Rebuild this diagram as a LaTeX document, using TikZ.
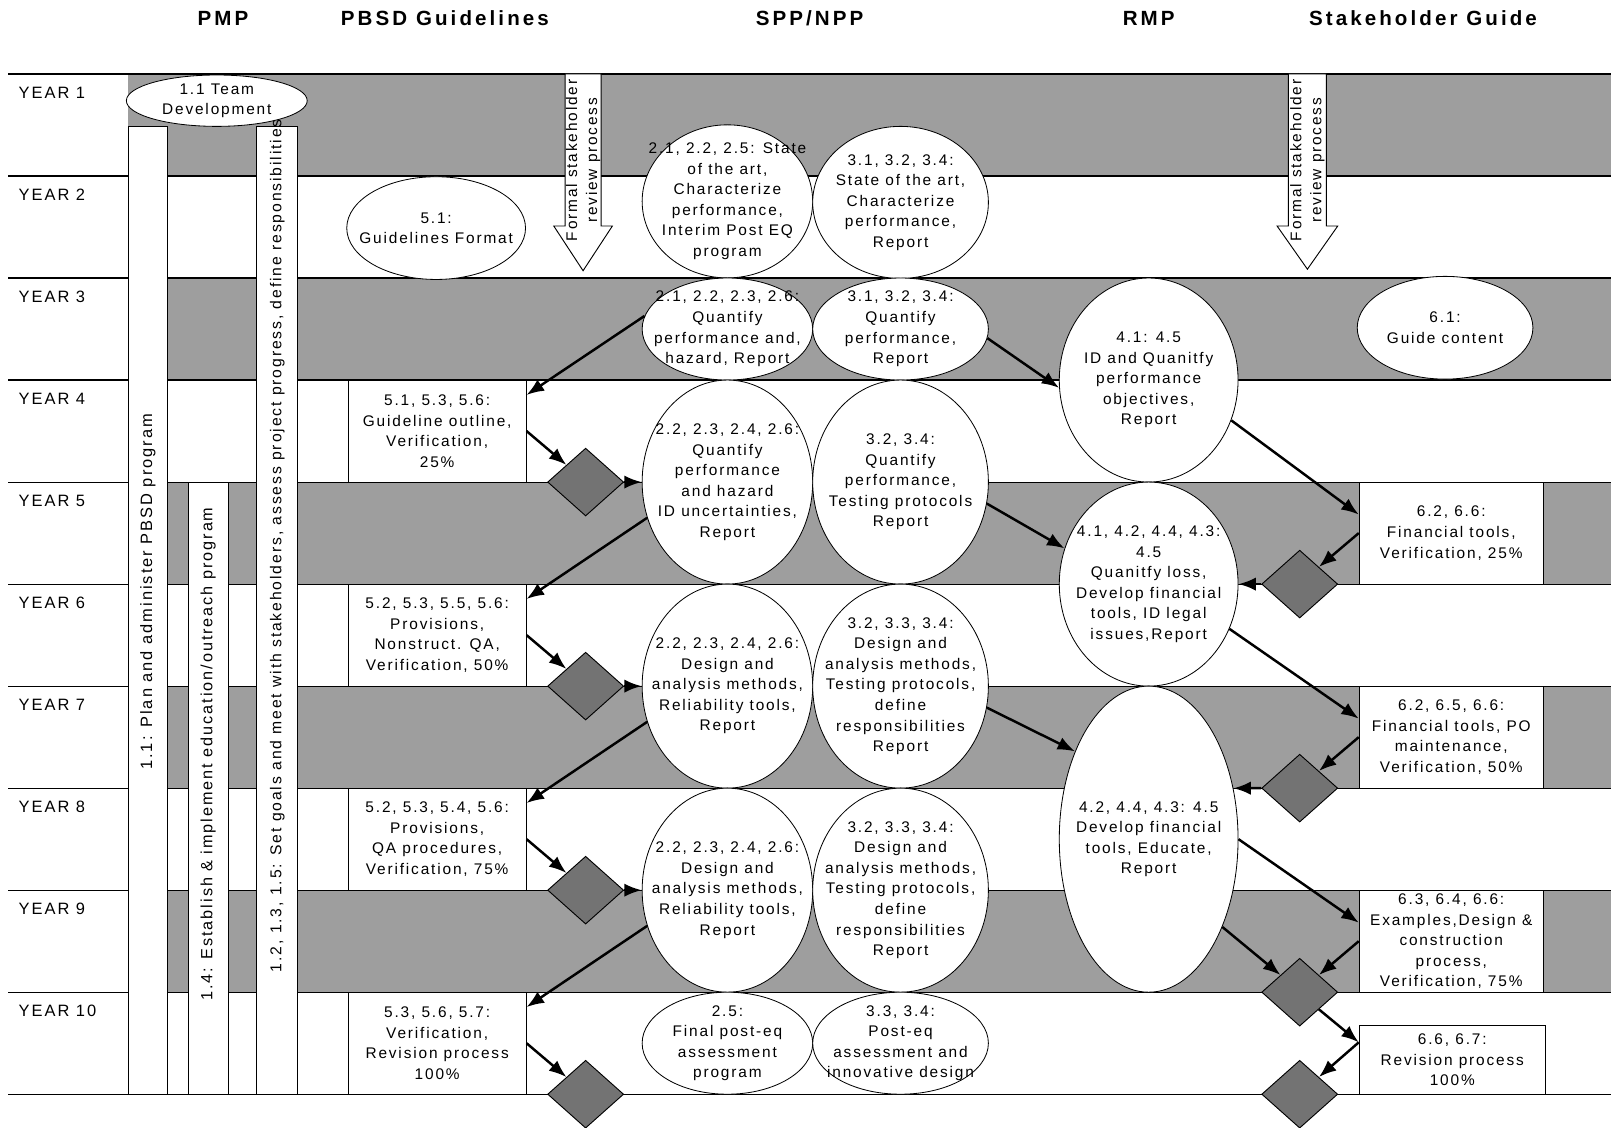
\documentclass[tikz,border=0pt]{standalone}
\usepackage{fontspec}
\newfontfamily\bodyf{Liberation Sans}[LetterSpace=18]
\newfontfamily\bodyg{Liberation Sans}[LetterSpace=12]
\newfontfamily\headf{Liberation Sans}[LetterSpace=15]
\usetikzlibrary{shapes.geometric,arrows.meta,calc}
\definecolor{bandgray}{gray}{0.62}
\definecolor{diagray}{gray}{0.45}
\newcommand\bodyt{\bodyg\fontsize{15}{20}\selectfont}
\newcommand\yeart{\bodyg\fontsize{16}{20}\selectfont}
\newcommand\headt{\headf\bfseries\fontsize{20}{22}\selectfont}
\newcommand\stripa{\bodyg\fontsize{16}{20}\selectfont}
\newcommand\stripb{\bodyg\fontsize{15.8}{20}\selectfont}
\newcommand\stripc{\bodyg\fontsize{15.3}{20}\selectfont}
\newcommand\arrt{\bodyg\fontsize{15}{19.5}\selectfont}
\begin{document}
\begin{tikzpicture}[x=1pt,y=-1pt,
  rule/.style={line width=1.1pt},
  strip/.style={draw,line width=1pt,fill=white,inner sep=0pt},
  gbox/.style={draw,line width=1pt,fill=white,inner sep=0pt,align=center,font=\bodyt},
  ell/.style={ellipse,draw,line width=0.8pt,fill=white,inner sep=0pt},
  txt/.style={align=center,inner sep=0pt,font=\bodyt},
  dia/.style={diamond,draw,line width=0.9pt,fill=diagray,minimum width=74pt,minimum height=66pt,inner sep=0pt},
  arr/.style={line width=2.4pt,-{Latex[length=17pt,width=13pt]}},
  hollow/.style={draw,line width=0.9pt,fill=white},
  head/.style={font=\headt,inner sep=0pt},
  yr/.style={anchor=west,font=\yeart,inner sep=0pt},
  vtxt/.style={rotate=90,inner sep=0pt},
  atxt/.style={rotate=90,font=\arrt,inner sep=0pt,align=center}
]
\useasboundingbox (0,0) rectangle (1568,1097);
\fill[white] (0,0) rectangle (1568,1097);
% shaded bands (odd years)
\fill[bandgray] (125,72) rectangle (1568,171.3);
\fill[bandgray] (163,270.6) rectangle (1568,369.9);
\fill[bandgray] (163,469.2) rectangle (1568,568.5);
\fill[bandgray] (163,667.8) rectangle (1568,767.1);
\fill[bandgray] (163,866.4) rectangle (1568,965.7);
% row rules
\foreach \yy in {72,171.3,270.6,369.9,469.2,568.5,667.8,767.1,866.4,965.7,1065}
  \draw[rule] (8,\yy) -- (1568,\yy);
% PMP strips
\node[strip,minimum width=38pt,minimum height=942pt] (sA) at (144,594) {};
\node[strip,minimum width=39pt,minimum height=595.8pt] (sB) at (202.5,767.1) {};
\node[strip,minimum width=40pt,minimum height=942pt] (sC) at (270,594) {};
% PBSD guideline boxes
\node[gbox,minimum width=173pt,minimum height=99.3pt] (g4) at (425.5,419.55) {5.1, 5.3, 5.6:\\Guideline outline,\\Verification,\\25\%};
\node[gbox,minimum width=173pt,minimum height=99.3pt] (g6) at (425.5,618.15) {5.2, 5.3, 5.5, 5.6:\\Provisions,\\Nonstruct. QA,\\Verification, 50\%};
\node[gbox,minimum width=173pt,minimum height=99.3pt] (g8) at (425.5,816.75) {5.2, 5.3, 5.4, 5.6:\\Provisions,\\QA procedures,\\Verification, 75\%};
\node[gbox,minimum width=173pt,minimum height=99.3pt] (g10) at (425.5,1015.35) {5.3, 5.6, 5.7:\\Verification,\\Revision process\\100\%};
% stakeholder boxes
\node[gbox,minimum width=179pt,minimum height=99.3pt] (S5) at (1412.5,518.85) {6.2, 6.6:\\Financial tools,\\Verification, 25\%};
\node[gbox,minimum width=179pt,minimum height=99.3pt] (S7) at (1412.5,717.45) {6.2, 6.5, 6.6:\\Financial tools, PO\\maintenance,\\Verification, 50\%};
\node[gbox,minimum width=179pt,minimum height=99.3pt] (S9) at (1412.5,916.05) {6.3, 6.4, 6.6:\\Examples,Design \&\\construction\\process,\\Verification, 75\%};
\node[gbox,minimum width=181pt,minimum height=67pt] (S10) at (1413.5,1031.5) {6.6, 6.7:\\Revision process\\100\%};
% ellipses
\node[ell,minimum width=176pt,minimum height=50pt] (e1) at (211,98) {};
\node[txt] (t1) at (e1) {1.1 Team\\Development};
\node[ell,minimum width=174pt,minimum height=100pt] (e51) at (424.5,222) {};
\node[txt] (t51) at (e51) {5.1:\\Guidelines Format};
\node[ell,minimum width=166pt,minimum height=149pt] (e2a) at (708,196) {};
\node[txt] (t2a) at (e2a) {2.1, 2.2, 2.5: State\\of the art,\\Characterize\\performance,\\Interim Post EQ\\program};
\node[ell,minimum width=171pt,minimum height=148pt] (e2b) at (876.5,197) {};
\node[txt] (t2b) at (e2b) {3.1, 3.2, 3.4:\\State of the art,\\Characterize\\performance,\\Report};
\node[ell,minimum width=166pt,minimum height=99.3pt] (e3a) at (708,320.25) {};
\node[txt] (t3a) at (e3a) {2.1, 2.2, 2.3, 2.6:\\Quantify\\performance and,\\hazard, Report};
\node[ell,minimum width=171pt,minimum height=99.3pt] (e3b) at (876.5,320.25) {};
\node[txt] (t3b) at (e3b) {3.1, 3.2, 3.4:\\Quantify\\performance,\\Report};
\node[ell,minimum width=166pt,minimum height=198.6pt] (e45a) at (708,469.2) {};
\node[txt] (t45a) at (e45a) {2.2, 2.3, 2.4, 2.6:\\Quantify\\performance\\and hazard\\ID uncertainties,\\Report};
\node[ell,minimum width=171pt,minimum height=198.6pt] (e45b) at (876.5,469.2) {};
\node[txt] (t45b) at (e45b) {3.2, 3.4:\\Quantify\\performance,\\Testing protocols\\Report};
\node[ell,minimum width=166pt,minimum height=198.6pt] (e67a) at (708,667.8) {};
\node[txt] (t67a) at (e67a) {2.2, 2.3, 2.4, 2.6:\\Design and\\analysis methods,\\Reliability tools,\\Report};
\node[ell,minimum width=171pt,minimum height=198.6pt] (e67b) at (876.5,667.8) {};
\node[txt] (t67b) at (e67b) {3.2, 3.3, 3.4:\\Design and\\analysis methods,\\Testing protocols,\\define\\responsibilities\\Report};
\node[ell,minimum width=166pt,minimum height=198.6pt] (e89a) at (708,866.4) {};
\node[txt] (t89a) at (e89a) {2.2, 2.3, 2.4, 2.6:\\Design and\\analysis methods,\\Reliability tools,\\Report};
\node[ell,minimum width=171pt,minimum height=198.6pt] (e89b) at (876.5,866.4) {};
\node[txt] (t89b) at (e89b) {3.2, 3.3, 3.4:\\Design and\\analysis methods,\\Testing protocols,\\define\\responsibilities\\Report};
\node[ell,minimum width=166pt,minimum height=99.3pt] (e10a) at (708,1015.35) {};
\node[txt] (t10a) at (e10a) {2.5:\\Final post-eq\\assessment\\program};
\node[ell,minimum width=171pt,minimum height=99.3pt] (e10b) at (876.5,1015.35) {};
\node[txt] (t10b) at (e10b) {3.3, 3.4:\\Post-eq\\assessment and\\innovative design};
\node[ell,minimum width=174pt,minimum height=198.6pt] (r1) at (1118,369.9) {};
\node[txt] (tr1) at (r1) {4.1: 4.5\\ID and Quanitfy\\performance\\objectives,\\Report};
\node[ell,minimum width=174pt,minimum height=198.6pt] (r2) at (1118,568.5) {};
\node[txt] (tr2) at (r2) {4.1, 4.2, 4.4, 4.3:\\4.5\\Quanitfy loss,\\Develop financial\\tools, ID legal\\issues,Report};
\node[ell,minimum width=174pt,minimum height=297.9pt] (r3) at (1118,816.75) {};
\node[txt] (tr3) at (r3) {4.2, 4.4, 4.3: 4.5\\Develop financial\\tools, Educate,\\Report};
\node[ell,minimum width=171pt,minimum height=100pt] (s1) at (1406.5,319) {};
\node[txt] (ts1) at (s1) {6.1:\\Guide content};
% diamonds
\node[dia] (d45) at (570,469.2) {};
\node[dia] (d67) at (570,667.8) {};
\node[dia] (d89) at (570,866.4) {};
\node[dia] (d10a) at (570,1065) {};
\node[dia] (d56) at (1265,568.5) {};
\node[dia] (d78) at (1265,767.1) {};
\node[dia] (d910) at (1265,965.7) {};
\node[dia] (d10b) at (1265,1065) {};
% connectors: SPP -> guidelines -> diamonds
\draw[arr] (e3a.171) -- ([yshift=-15pt]g4.north east);
\draw[arr] (g4.east) -- (d45.north west);
\draw[arr] (d45.east) -- (e45a.west);
\draw[arr] (e45a.204) -- ([yshift=-15pt]g6.north east);
\draw[arr] (g6.east) -- (d67.north west);
\draw[arr] (d67.east) -- (e67a.west);
\draw[arr] (e67a.204) -- ([yshift=-15pt]g8.north east);
\draw[arr] (g8.east) -- (d89.north west);
\draw[arr] (d89.east) -- (e89a.west);
\draw[arr] (e89a.204) -- ([yshift=-15pt]g10.north east);
\draw[arr] (g10.east) -- (d10a.north west);
% SPP -> RMP -> stakeholder
\draw[arr] (e3b.354) -- (r1.185);
\draw[arr] (e45b.346) -- (r2.157);
\draw[arr] (e67b.346) -- (r3.130);
\draw[arr] (r1.334) -- ([yshift=18pt]S5.west);
\draw[arr] (S5.west) -- (d56.north east);
\draw[arr] (d56.west) -- (r2.east);
\draw[arr] (r2.331) -- ([yshift=18pt]S7.west);
\draw[arr] (S7.west) -- (d78.north east);
\draw[arr] (d78.west) -- (r3.31);
\draw[arr] (r3.east) -- ([yshift=18pt]S9.west);
\draw[arr] (r3.310) -- (d910.north west);
\draw[arr] (S9.west) -- (d910.north east);
\draw[arr] (d910.south east) -- ([yshift=17pt]S10.west);
\draw[arr] ([yshift=17pt]S10.west) -- (d10b.north east);
% formal stakeholder review arrows
\draw[hollow] (550,72) -- (585,72) -- (585,220) -- (596,220) -- (567.5,263.5) -- (539,220) -- (550,220) -- cycle;
\begin{scope}
\clip (539,72.6) rectangle (596,265);
\node[atxt] (fa1) at (567.5,156) {Formal stakeholder\\review process};
\end{scope}
\draw[hollow] (1254,72) -- (1291,72) -- (1291,220) -- (1302,220) -- (1272.5,262) -- (1243,220) -- (1254,220) -- cycle;
\begin{scope}
\clip (1243,72.6) rectangle (1302,265);
\node[atxt] (fa2) at (1272.5,156) {Formal stakeholder\\review process};
\end{scope}
% PMP strip texts
\node[vtxt,font=\stripa] (tA) at (144,576) {1.1: Plan and administer PBSD program};
\node[vtxt,font=\stripb] (tB) at (202.5,734) {1.4: Establish \& implement education/outreach program};
\node[vtxt,font=\stripc] (tC) at (270,531) {1.2, 1.3, 1.5: Set goals and meet with stakeholders, assess project progress, define responsibilities};
% headers
\node[head] (hPMP) at (217,18) {PMP};
\node[head] (hPBSD) at (433,18) {PBSD Guidelines};
\node[head] (hSPP) at (788,18) {SPP/NPP};
\node[head] (hRMP) at (1118,18) {RMP};
\node[head] (hSG) at (1385,18) {Stakeholder Guide};
% year labels
\node[yr] (y1) at (18,90) {YEAR 1};
\node[yr] (y2) at (18,189.3) {YEAR 2};
\node[yr] (y3) at (18,288.6) {YEAR 3};
\node[yr] (y4) at (18,387.9) {YEAR 4};
\node[yr] (y5) at (18,487.2) {YEAR 5};
\node[yr] (y6) at (18,586.5) {YEAR 6};
\node[yr] (y7) at (18,685.8) {YEAR 7};
\node[yr] (y8) at (18,785.1) {YEAR 8};
\node[yr] (y9) at (18,884.4) {YEAR 9};
\node[yr] (y10) at (18,983.7) {YEAR 10};
\end{tikzpicture}
\end{document}
